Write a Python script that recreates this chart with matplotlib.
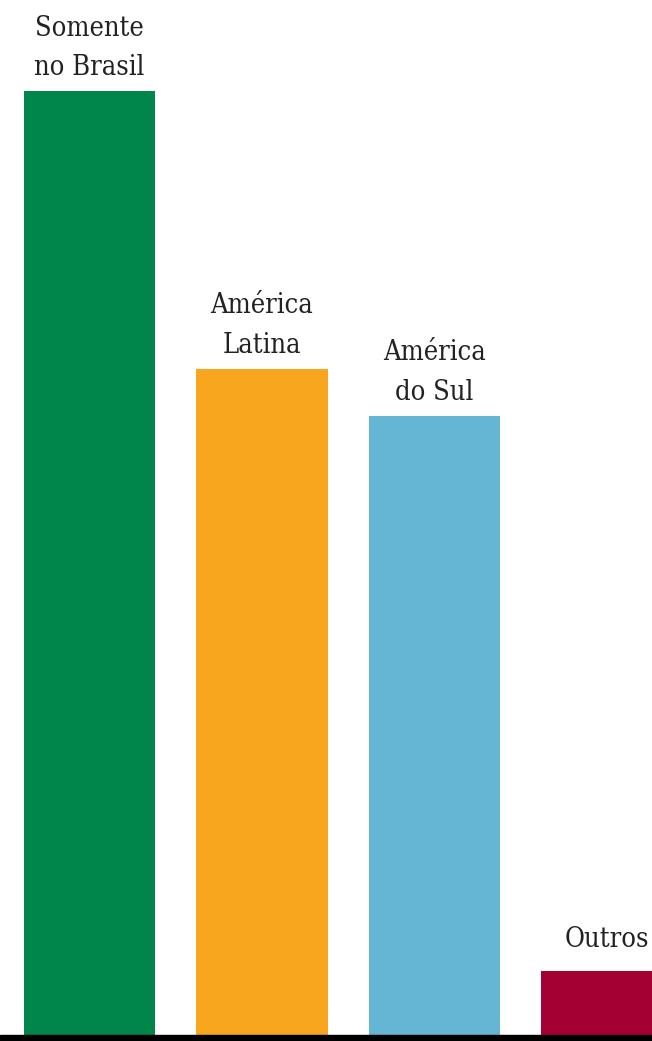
import matplotlib
matplotlib.use("Agg")
import matplotlib.pyplot as plt

categories = ["Somente\nno Brasil", "América\nLatina", "América\ndo Sul", "Outros"]
values = [100.0, 70.6, 65.6, 6.8]
colors = ["#00854A", "#F8A61E", "#64B6D4", "#A50034"]

W, H = 652, 1041
dpi = 100
fig = plt.figure(figsize=(W / dpi, H / dpi), dpi=dpi)
ax = fig.add_axes([0, 0, 1, 1])

spacing_px = 172.5
first_px = 89.5
x = list(range(len(categories)))
ax.bar(x, values, width=131 / spacing_px, color=colors, zorder=2)

ax.set_xlim(-first_px / spacing_px, (W - first_px) / spacing_px)
scale = 944 / 100.0
base_px = 6
ax.set_ylim(-base_px / scale, (H - base_px) / scale)
ax.axhspan(-base_px / scale - 1, 0, color="black", zorder=3)

for xi, v, lab in zip(x, values, categories):
    off = 7 if "\n" in lab else 13
    ax.annotate(lab, (xi, v), xytext=(0, off), textcoords="offset points",
                ha="center", va="bottom", fontsize=19.5, color="#222222",
                family="DejaVu Serif", fontstretch="condensed",
                linespacing=1.6)

ax.axis("off")
fig.savefig("out.png", dpi=dpi)
